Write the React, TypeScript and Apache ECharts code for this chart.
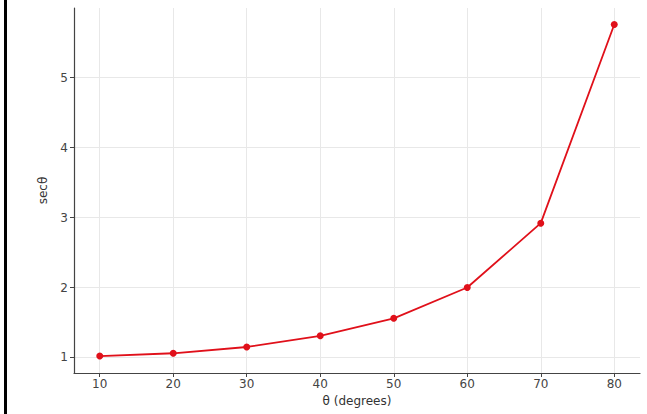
import React, { useEffect, useRef } from "react";
import * as echarts from "echarts";

const thetaDegrees = [10, 20, 30, 40, 50, 60, 70, 80];
const secValues = [1.02, 1.06, 1.15, 1.31, 1.56, 2.0, 2.92, 5.76];
const xTicks = [10, 20, 30, 40, 50, 60, 70, 80];
const yTicks = [1, 2, 3, 4, 5];
const titleText = "secθ vs θ";
const xName = "θ (degrees)";
const yName = "secθ";

export default function App() {
  const ref = useRef<HTMLDivElement>(null);
  useEffect(() => {
    if (!ref.current) return;
    const chart = echarts.init(ref.current, undefined, { renderer: "svg" });
    const font = "DejaVu Sans";
    const grid = "#e8e8e8";
    chart.setOption({
      animation: false,
      backgroundColor: "#ffffff",
      grid: { left: 74, right: 7, top: 8, bottom: 41 },
      graphic: [
        { type: "rect", shape: { x: 4, y: 0, width: 3, height: 414 }, style: { fill: "#000" } },
        {
          type: "text",
          x: 357,
          y: 2,
          style: {
            text: titleText,
            fontFamily: font,
            fontSize: 14,
            fill: "#333",
            align: "center",
            verticalAlign: "bottom",
          },
        },
      ],
      xAxis: {
        type: "value",
        min: 6.5,
        max: 83.5,
        name: xName,
        nameLocation: "middle",
        nameGap: 22,
        nameTextStyle: { fontFamily: font, fontSize: 12, color: "#333" },
        axisLine: { show: true, onZero: false, lineStyle: { color: "#444", width: 1.2 } },
        axisTick: { show: true, length: 4, inside: false, customValues: xTicks, lineStyle: { color: "#444" } },
        axisLabel: { customValues: xTicks, margin: 5, fontFamily: font, fontSize: 12, color: "#444" },
        splitLine: { show: true, lineStyle: { color: grid, width: 1 } },
      },
      yAxis: {
        type: "value",
        min: 0.778,
        max: 5.996,
        name: yName,
        nameLocation: "middle",
        nameGap: 24,
        nameTextStyle: { fontFamily: font, fontSize: 12, color: "#333" },
        axisLine: { show: true, onZero: false, lineStyle: { color: "#444", width: 1.2 } },
        axisTick: { show: true, length: 4, inside: false, customValues: yTicks, lineStyle: { color: "#444" } },
        axisLabel: { customValues: yTicks, margin: 6, fontFamily: font, fontSize: 12, color: "#444" },
        splitLine: { show: true, lineStyle: { color: grid, width: 1 } },
      },
      series: [
        {
          type: "line",
          data: thetaDegrees.map((t, i) => [t, secValues[i]]),
          symbol: "circle",
          symbolSize: 7,
          lineStyle: { color: "#e0101a", width: 1.8 },
          itemStyle: { color: "#e0101a" },
        },
      ],
    });
    return () => chart.dispose();
  }, []);
  return <div ref={ref} style={{ width: 647, height: 414, position: "fixed", left: 0, top: 0 }} />;
}
